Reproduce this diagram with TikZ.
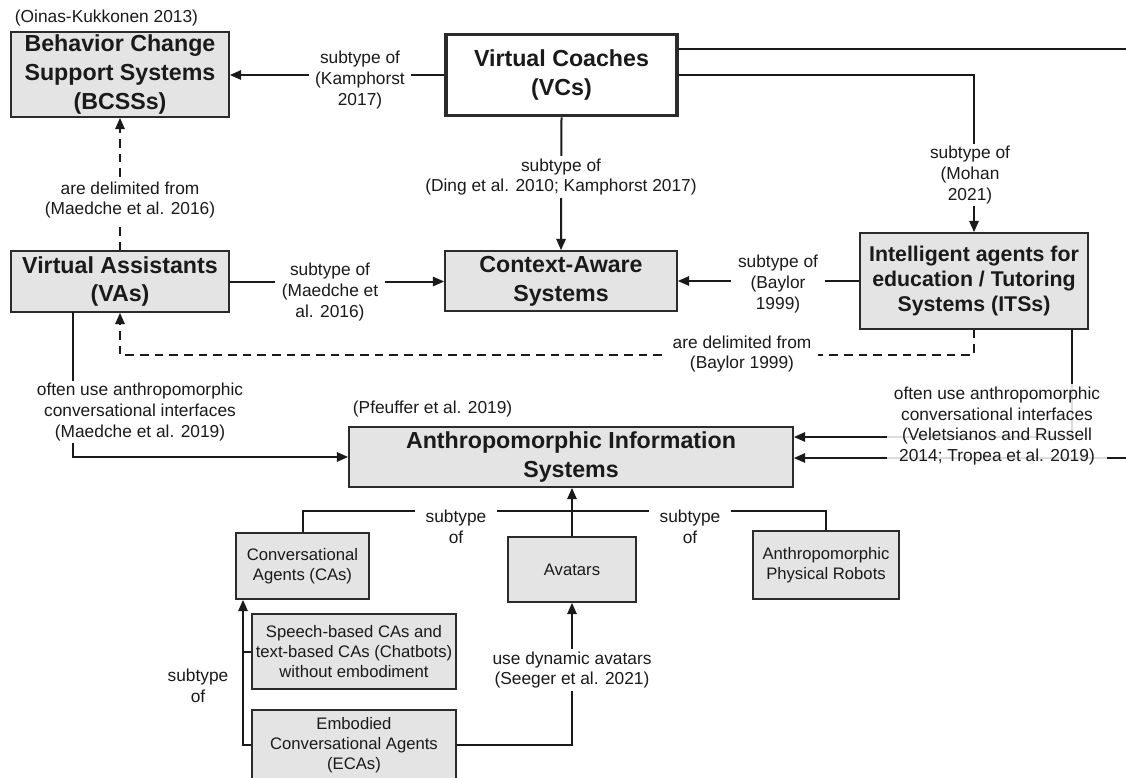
\documentclass[tikz,border=0pt]{standalone}
\usepackage{fontspec}
\setmainfont{Liberation Sans}
\usetikzlibrary{arrows.meta}
\definecolor{boxfill}{HTML}{E4E4E4}
\definecolor{boxline}{HTML}{2B2B2B}
\definecolor{ink}{HTML}{1A1A1A}
\tikzset{
  box/.style={draw=boxline, fill=boxfill, line width=1.2pt, inner sep=0pt, align=center, text=ink},
  titlefont/.style={font=\fontsize{17.4}{21.5}\selectfont\bfseries},
  plainfont/.style={font=\fontsize{12.5}{15}\selectfont},
  lbl/.style={fill=white, inner xsep=5pt, inner ysep=2pt, align=center, text=ink, font=\fontsize{13}{15.5}\selectfont},
  conn/.style={draw=ink, line width=1.5pt},
  arr/.style={conn, -{Triangle[length=8.5pt,width=7pt]}},
  dsh/.style={dash pattern=on 6.5pt off 4.5pt},
}
\begin{document}
\begin{tikzpicture}[x=0.75pt, y=-0.75pt]
\useasboundingbox (0,0) rectangle (1126,777);
\clip (0,0) rectangle (1126,777);
\fill[white] (0,0) rectangle (1126,777);

% boxes
\node[box, titlefont, minimum width=163.5pt, minimum height=63.75pt] (bcss) at (120,74.5) {Behavior Change\\Support Systems\\(BCSSs)};
\node[box, titlefont, fill=white, line width=2.6pt, minimum width=173pt, minimum height=61pt] (vc) at (561.5,75) {Virtual Coaches\\(VCs)};
\node[box, titlefont, minimum width=174pt, minimum height=45pt] (cas) at (561,281) {Context-Aware\\Systems};
\node[box, titlefont, minimum width=163.5pt, minimum height=45.75pt] (va) at (120,281.5) {Virtual Assistants\\(VAs)};
\node[box, font=\fontsize{16}{18.5}\selectfont\bfseries, minimum width=171pt, minimum height=72pt] (its) at (974,281) {Intelligent agents for\\education / Tutoring\\Systems (ITSs)};
\node[box, titlefont, minimum width=333pt, minimum height=45pt] (ais) at (571,457) {Anthropomorphic Information\\Systems};
\node[box, plainfont, minimum width=99.75pt, minimum height=49.5pt] (ca) at (302.5,566) {Conversational\\Agents (CAs)};
\node[box, plainfont, minimum width=96pt, minimum height=48.75pt] (av) at (572,569.5) {Avatars};
\node[box, plainfont, minimum width=109.5pt, minimum height=51pt] (rob) at (826,565) {Anthropomorphic\\Physical Robots};
\node[box, plainfont, minimum width=153pt, minimum height=56.25pt] (spe) at (354,651.5) {Speech-based CAs and\\text-based CAs (Chatbots)\\without embodiment};
\node[box, plainfont, minimum width=153pt, minimum height=52.5pt] (eca) at (354,745) {Embodied\\Conversational Agents\\(ECAs)};

\coordinate (vaout) at (73,312);
\coordinate (itsout) at (1072,329);
\coordinate (farright) at (1140,49);

% connectors
\draw[arr] (vc.west) -- (vc.west -| bcss.east);
\draw[conn] (vc.east |- 0,49) -- (farright) -- (farright |- 0,458);
\draw[arr] (farright |- 0,458) -- (ais.east |- 0,458);
\draw[arr] (vc.east) -| (its.north);
\draw[arr] (vc.south) -- (cas.north);
\draw[arr, dsh] (va.north) -- (bcss.south);
\draw[arr] (va.east) -- (va.east -| cas.west);
\draw[arr] (its.west) -- (its.west -| cas.east);
\draw[arr, dsh] (its.south) -- (its.south |- 0,355) -- (va.south |- 0,355) -- (va.south);
\draw[arr] (vaout) |- (ais.west);
\draw[arr] (itsout) |- (ais.east |- 0,437);
\draw[conn] (ca.north) -- (ca.north |- 0,511) -- (rob.north |- 0,511) -- (rob.north);
\draw[arr] (av.north) -- (ais.south -| av.north);
\draw[arr] (eca.west) -- (eca.west -| 243,0) -- (ca.south -| 243,0);
\draw[conn] (spe.west) -- (spe.west -| 243,0);
\draw[arr] (eca.east) -| (av.south);

% labels
\node[lbl, fill=none, anchor=west] (l1) at (8,18) {(Oinas-Kukkonen 2013)};
\node[lbl] (l2) at (360,80) {subtype of\\(Kamphorst\\2017)};
\node[lbl] (l3) at (970,175) {subtype of\\(Mohan\\2021)};
\node[lbl] (l4) at (561,177) {subtype of\\(Ding et al. 2010; Kamphorst 2017)};
\node[lbl] (l5) at (130,200) {are delimited from\\(Maedche et al. 2016)};
\node[lbl] (l6) at (330,292) {subtype of\\(Maedche et\\al. 2016)};
\node[lbl] (l7) at (778,284) {subtype of\\(Baylor\\1999)};
\node[lbl] (l8) at (742,354) {are delimited from\\(Baylor 1999)};
\node[lbl] (l9) at (140,412) {often use anthropomorphic\\conversational interfaces\\(Maedche et al. 2019)};
\node[lbl, fill=none, anchor=west] (l10) at (346,409) {(Pfeuffer et al. 2019)};
\node[lbl, fill opacity=0.85, text opacity=1] (l11) at (997,426) {often use anthropomorphic\\conversational interfaces\\(Veletsianos and Russell\\2014; Tropea et al. 2019)};
\node[lbl, inner xsep=8pt] (l12) at (456,527) {subtype\\of};
\node[lbl, inner xsep=8pt] (l13) at (690,527) {subtype\\of};
\node[lbl] (l14) at (198,686) {subtype\\of};
\node[lbl] (l15) at (572,670) {use dynamic avatars\\(Seeger et al. 2021)};
\end{tikzpicture}
\end{document}
